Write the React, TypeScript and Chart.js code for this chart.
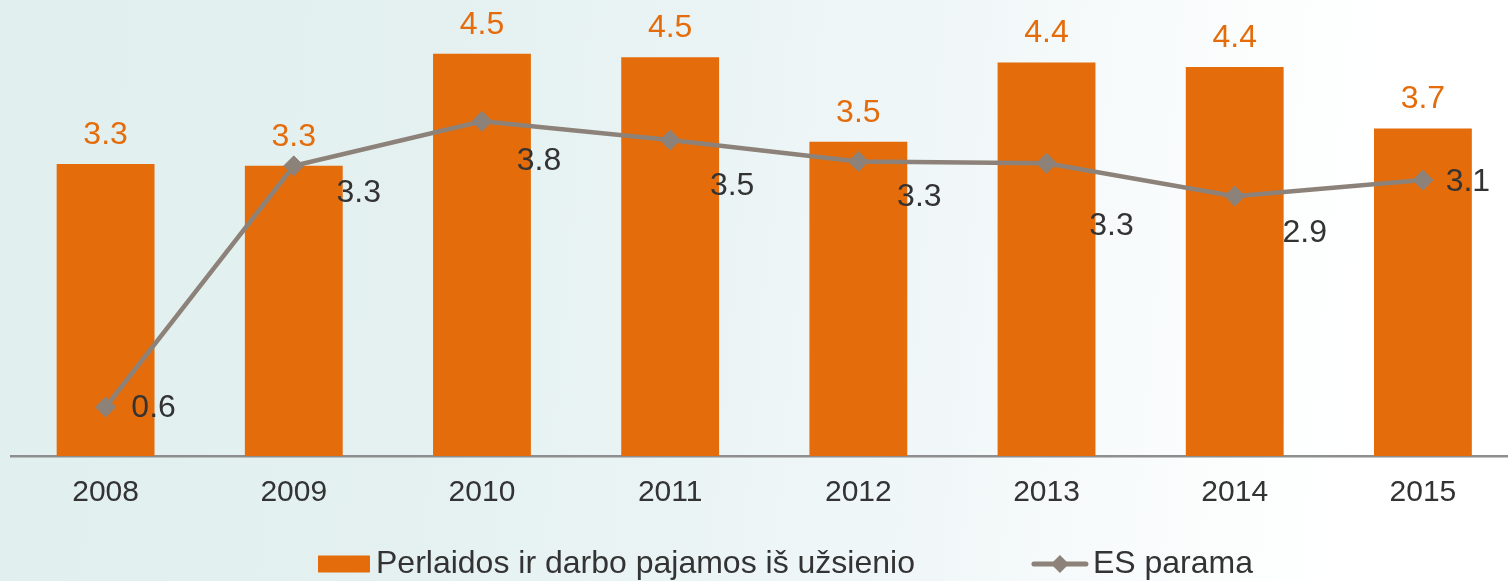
import React, { useEffect, useRef } from "react";
import { Chart, registerables } from "chart.js";

Chart.register(...registerables);

const years = ["2008", "2009", "2010", "2011", "2012", "2013", "2014", "2015"];
const remittances = [3.28, 3.26, 4.52, 4.48, 3.53, 4.42, 4.37, 3.68];
const euSupport = [0.55, 3.26, 3.76, 3.55, 3.31, 3.29, 2.92, 3.1];
const seriesNames = ["Perlaidos ir darbo pajamos iš užsienio", "ES parama"];
// label nudges (px) for the line value labels, relative to each point
const lineLabelDx = [48, 65, 57, 62, 61, 65, 70, 45];
const lineLabelDy = [1, 27, 40, 46, 36, 63, 37, 2];

const ORANGE = "#E46C0A";
const GREY = "#8C827A";
const FONT = "'Liberation Sans', Arial, sans-serif";

const labelsPlugin = {
  id: "valueLabels",
  afterDatasetsDraw(chart: any) {
    const ctx = chart.ctx;
    ctx.save();
    const barMeta = chart.getDatasetMeta(0);
    ctx.font = `32px ${FONT}`;
    ctx.fillStyle = ORANGE;
    ctx.textAlign = "center";
    ctx.textBaseline = "middle";
    barMeta.data.forEach((el: any, i: number) => {
      ctx.fillText(remittances[i].toFixed(1), el.x, el.y - 29);
    });
    const lineMeta = chart.getDatasetMeta(1);
    ctx.fillStyle = "#333333";
    lineMeta.data.forEach((el: any, i: number) => {
      ctx.fillText(euSupport[i].toFixed(1), el.x + lineLabelDx[i], el.y + lineLabelDy[i]);
    });
    ctx.restore();
  },
};

const legendPlugin = {
  id: "customLegend",
  afterDraw(chart: any) {
    const ctx = chart.ctx;
    ctx.save();
    ctx.font = `32px ${FONT}`;
    ctx.textBaseline = "middle";
    ctx.textAlign = "left";
    const cy = chart.height - 17;
    let x = 318;
    ctx.fillStyle = ORANGE;
    ctx.fillRect(x, cy - 8.5, 52, 17);
    x += 58;
    ctx.fillStyle = "#333333";
    ctx.fillText(seriesNames[0], x, cy);
    x += ctx.measureText(seriesNames[0]).width + 117;
    ctx.strokeStyle = GREY;
    ctx.lineWidth = 5;
    ctx.lineCap = "round";
    ctx.beginPath();
    ctx.moveTo(x + 2, cy);
    ctx.lineTo(x + 54, cy);
    ctx.stroke();
    ctx.fillStyle = GREY;
    ctx.beginPath();
    const dx = x + 28;
    ctx.moveTo(dx - 9, cy);
    ctx.lineTo(dx, cy - 9);
    ctx.lineTo(dx + 9, cy);
    ctx.lineTo(dx, cy + 9);
    ctx.closePath();
    ctx.fill();
    x += 61;
    ctx.fillStyle = "#333333";
    ctx.fillText(seriesNames[1], x, cy);
    ctx.restore();
  },
};

export default function App() {
  const canvasRef = useRef<HTMLCanvasElement | null>(null);

  useEffect(() => {
    document.body.style.margin = "0";
    const canvas = canvasRef.current;
    if (!canvas) return;
    const chart = new Chart(canvas, {
      type: "bar",
      data: {
        labels: years,
        datasets: [
          {
            type: "bar",
            label: seriesNames[0],
            data: remittances,
            backgroundColor: ORANGE,
            borderWidth: 0,
            categoryPercentage: 1,
            barPercentage: 0.52,
            order: 1,
          } as any,
          {
            type: "line",
            label: seriesNames[1],
            data: euSupport,
            borderColor: GREY,
            backgroundColor: GREY,
            borderWidth: 4.5,
            pointStyle: "rectRot",
            pointRadius: 10,
            pointBorderWidth: 1,
            pointBorderColor: GREY,
            pointBackgroundColor: GREY,
            tension: 0,
            order: 0,
          } as any,
        ],
      },
      options: {
        responsive: false,
        animation: false,
        events: [],
        layout: { padding: { left: 11.5, right: 0, top: 9.5, bottom: 51 } },
        plugins: {
          legend: { display: false },
          tooltip: { enabled: false },
        },
        scales: {
          x: {
            offset: true,
            grid: { display: false, drawTicks: false },
            border: { display: true, color: "#8E8E8E", width: 2.5 },
            ticks: {
              color: "#333333",
              font: { family: FONT, size: 30 },
              padding: 19,
              maxRotation: 0,
            },
          },
          y: {
            display: false,
            min: 0,
            max: 5,
          },
        },
      },
      plugins: [labelsPlugin, legendPlugin],
    });
    return () => chart.destroy();
  }, []);

  return (
    <div
      style={{
        position: "absolute",
        left: 0,
        top: 0,
        width: 1508,
        height: 581,
        overflow: "hidden",
        background:
          "linear-gradient(95deg, #E1EFEF 0%, #E5F1F1 30%, #E9F3F4 42%, #F1F7F8 63%, #FBFDFD 80%, #FFFFFF 90%)",
      }}
    >
      <canvas ref={canvasRef} width={1528} height={581} style={{ display: "block" }} />
    </div>
  );
}
